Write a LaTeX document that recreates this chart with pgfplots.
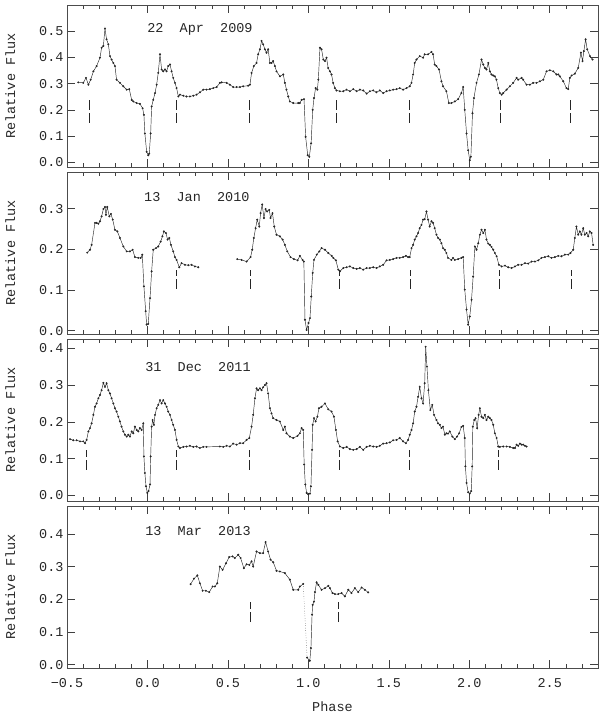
\documentclass[border=0pt]{standalone}
\usepackage{fontspec}
\setmainfont{Liberation Mono}
\usepackage{pgfplots}
\pgfplotsset{compat=1.18}

\pgfplotsset{
  panel/.style={
    scale only axis, width=531pt, height=162pt,
    xmin=-0.5, xmax=2.8,
    xtick={-0.5,0,0.5,1,1.5,2,2.5},
    minor xtick={-0.4,-0.3,-0.2,-0.1,0.1,0.2,0.3,0.4,0.6,0.7,0.8,0.9,1.1,1.2,1.3,1.4,1.6,1.7,1.8,1.9,2.1,2.2,2.3,2.4,2.6,2.7},
    xticklabels={},
    tick align=inside,
    major tick length=8pt, minor tick length=4pt,
    every tick/.append style={black!75, line width=0.6pt},
    axis line style={black!70, line width=0.8pt},
    tick label style={black!85},
    /pgf/number format/assume math mode=true,
    yticklabel style={/pgf/number format/fixed, /pgf/number format/fixed zerofill, /pgf/number format/precision=1},
    ylabel={Relative Flux},
    ylabel style={at={(axis description cs:-0.107,0.5)}, anchor=center, black!85},
    clip=false,
  },
  lc/.style={black!85, line width=0.45pt, mark=*, mark size=0.75pt, mark options={solid}},
  dk/.style={black!85, line width=0.5pt, mark=none, dash pattern=on 10pt off 3pt},
}

\begin{document}
\begin{tikzpicture}[font=\fontsize{13.5}{15}\selectfont]
\useasboundingbox (0,0) rectangle (600pt,-713pt);

% ---- 22 Apr 2009
\begin{axis}[panel, at={(67pt,-5pt)}, anchor=north west,
  ymin=-0.018, ymax=0.6, ytick={0,0.1,0.2,0.3,0.4,0.5}]
\addplot[lc] coordinates {
(-0.430,0.305)(-0.399,0.303)(-0.382,0.322)(-0.367,0.296)(-0.353,0.315)(-0.336,0.347)(-0.316,0.367)(-0.295,0.399)(-0.285,0.437)(-0.274,0.444)(-0.264,0.510)(-0.254,0.469)(-0.243,0.450)(-0.233,0.405)(-0.223,0.392)(-0.212,0.379)(-0.202,0.367)(-0.192,0.315)(-0.171,0.303)(-0.150,0.290)(-0.129,0.277)(-0.113,0.279)(-0.098,0.238)(-0.088,0.232)(-0.067,0.226)(-0.047,0.223)(-0.030,0.206)(-0.022,0.181)(-0.016,0.110)(-0.005,0.040)(0.005,0.027)(0.011,0.033)(0.020,0.110)(0.026,0.213)(0.036,0.238)(0.047,0.264)(0.057,0.296)(0.067,0.341)(0.078,0.412)(0.088,0.354)(0.098,0.347)(0.109,0.354)(0.119,0.347)(0.129,0.367)(0.140,0.373)(0.150,0.347)(0.160,0.322)(0.171,0.303)(0.181,0.283)(0.192,0.251)(0.202,0.258)(0.223,0.254)(0.243,0.251)(0.264,0.251)(0.285,0.254)(0.305,0.258)(0.326,0.267)(0.347,0.277)(0.367,0.277)(0.388,0.279)(0.409,0.283)(0.430,0.287)(0.450,0.303)(0.461,0.305)(0.492,0.303)(0.512,0.296)(0.533,0.287)(0.554,0.287)(0.575,0.287)(0.595,0.290)(0.626,0.292)(0.637,0.296)(0.647,0.341)(0.661,0.367)(0.678,0.379)(0.688,0.412)(0.699,0.431)(0.709,0.463)(0.719,0.450)(0.730,0.431)(0.740,0.418)(0.750,0.431)(0.761,0.379)(0.771,0.379)(0.781,0.386)(0.792,0.367)(0.802,0.347)(0.823,0.328)(0.844,0.335)(0.854,0.303)(0.864,0.277)(0.875,0.251)(0.885,0.232)(0.906,0.226)(0.937,0.226)
(0.947,0.226)(0.958,0.238)(0.973,0.241)(0.983,0.097)(0.996,0.027)(1.006,0.021)(1.017,0.072)(1.027,0.200)(1.035,0.245)(1.045,0.283)(1.056,0.277)(1.062,0.315)(1.072,0.437)(1.082,0.431)(1.093,0.392)(1.103,0.386)(1.113,0.399)(1.123,0.360)(1.134,0.347)(1.144,0.335)(1.154,0.303)(1.165,0.283)(1.175,0.274)(1.196,0.271)(1.217,0.271)(1.237,0.277)(1.258,0.271)(1.279,0.279)(1.300,0.271)(1.320,0.277)(1.341,0.274)(1.362,0.262)(1.382,0.271)(1.403,0.274)(1.423,0.267)(1.444,0.274)(1.465,0.264)(1.486,0.271)(1.506,0.274)(1.527,0.277)(1.548,0.279)(1.568,0.283)(1.589,0.277)(1.610,0.283)(1.630,0.290)(1.641,0.303)(1.651,0.335)(1.661,0.379)(1.672,0.392)(1.692,0.405)(1.713,0.399)(1.723,0.412)(1.744,0.412)(1.765,0.421)(1.775,0.412)(1.785,0.373)(1.796,0.367)(1.812,0.354)(1.827,0.309)(1.837,0.290)(1.858,0.271)(1.873,0.226)(1.889,0.226)(1.910,0.232)(1.931,0.241)(1.951,0.264)(1.962,0.287)(1.972,0.200)(1.983,0.110)(1.993,0.046)(2.003,0.008)(2.010,0.021)(2.020,0.187)(2.029,0.245)(2.045,0.303)(2.060,0.335)(2.076,0.392)(2.087,0.373)(2.097,0.360)(2.107,0.354)(2.118,0.379)(2.128,0.347)(2.138,0.335)(2.149,0.331)(2.159,0.328)(2.169,0.315)(2.180,0.283)(2.190,0.264)(2.201,0.258)(2.211,0.264)(2.232,0.277)(2.252,0.290)(2.273,0.303)(2.294,0.322)(2.304,0.315)(2.325,0.322)(2.335,0.315)(2.356,0.296)(2.377,0.296)(2.397,0.303)(2.418,0.303)(2.439,0.309)(2.460,0.315)(2.480,0.347)(2.501,0.351)(2.522,0.347)(2.542,0.335)(2.553,0.335)(2.563,0.328)(2.584,0.309)(2.604,0.283)(2.615,0.279)(2.625,0.322)(2.636,0.331)(2.656,0.338)(2.677,0.360)(2.694,0.418)(2.704,0.386)(2.712,0.424)(2.723,0.469)(2.733,0.431)(2.750,0.405)(2.766,0.392)
};
\addplot[dk] coordinates {(-0.36,0.15)(-0.36,0.245)};
\addplot[dk] coordinates {(0.18,0.15)(0.18,0.245)};
\addplot[dk] coordinates {(0.635,0.15)(0.635,0.245)};
\addplot[dk] coordinates {(1.175,0.15)(1.175,0.245)};
\addplot[dk] coordinates {(1.63,0.15)(1.63,0.245)};
\addplot[dk] coordinates {(2.195,0.15)(2.195,0.245)};
\addplot[dk] coordinates {(2.625,0.15)(2.625,0.245)};
\node[black!85] at (axis cs:0.326,0.508) {22~~Apr~~2009};
\end{axis}

% ---- 13 Jan 2010
\begin{axis}[panel, at={(67pt,-172pt)}, anchor=north west,
  ymin=-0.008, ymax=0.39, ytick={0,0.1,0.2,0.3}]
\addplot[lc] coordinates {
(-0.374,0.192)(-0.357,0.199)(-0.347,0.211)(-0.326,0.265)(-0.316,0.265)(-0.305,0.263)(-0.295,0.269)(-0.285,0.281)(-0.274,0.299)(-0.264,0.304)(-0.258,0.285)(-0.250,0.304)(-0.237,0.281)(-0.227,0.287)(-0.216,0.273)(-0.202,0.248)(-0.187,0.244)(-0.171,0.228)(-0.150,0.207)(-0.129,0.195)(-0.109,0.195)(-0.092,0.199)(-0.078,0.181)(-0.057,0.179)(-0.042,0.179)(-0.032,0.187)(-0.022,0.109)(-0.011,0.048)(-0.005,0.015)(0.005,0.017)(0.016,0.080)(0.026,0.146)(0.036,0.199)(0.053,0.203)(0.067,0.207)(0.082,0.219)(0.093,0.232)(0.102,0.244)(0.115,0.240)(0.125,0.224)(0.136,0.228)(0.146,0.211)(0.160,0.195)(0.171,0.181)(0.181,0.174)(0.198,0.156)(0.212,0.166)(0.233,0.162)(0.254,0.161)(0.274,0.162)(0.295,0.158)(0.316,0.156)
};
\addplot[lc] coordinates {
(0.558,0.176)(0.585,0.174)(0.616,0.170)(0.641,0.181)(0.651,0.199)(0.661,0.228)(0.672,0.252)(0.682,0.273)(0.695,0.256)(0.703,0.289)(0.713,0.310)(0.724,0.277)(0.734,0.299)(0.744,0.293)(0.757,0.297)(0.765,0.277)(0.777,0.289)(0.788,0.256)(0.802,0.236)(0.823,0.232)(0.840,0.224)(0.854,0.211)(0.869,0.195)(0.889,0.181)(0.910,0.176)(0.933,0.173)
(0.947,0.184)(0.964,0.174)(0.972,0.170)(0.979,0.027)(0.989,0.002)(1.001,0.019)(1.010,0.031)(1.018,0.084)(1.027,0.142)(1.035,0.174)(1.052,0.187)(1.068,0.195)(1.082,0.203)(1.103,0.199)(1.124,0.191)(1.145,0.184)(1.155,0.179)(1.171,0.173)(1.186,0.150)(1.196,0.146)(1.217,0.154)(1.238,0.156)(1.258,0.158)(1.279,0.154)(1.300,0.152)(1.320,0.154)(1.341,0.150)(1.362,0.154)(1.382,0.154)(1.403,0.156)(1.424,0.154)(1.444,0.158)(1.465,0.162)(1.486,0.173)(1.506,0.174)(1.527,0.176)(1.548,0.179)(1.568,0.179)(1.589,0.181)(1.606,0.184)(1.620,0.181)(1.630,0.181)(1.641,0.203)(1.651,0.211)(1.661,0.224)(1.672,0.232)(1.682,0.240)(1.692,0.252)(1.703,0.260)(1.713,0.273)(1.723,0.274)(1.734,0.293)(1.744,0.273)(1.754,0.256)(1.765,0.269)(1.775,0.265)(1.785,0.252)(1.796,0.236)(1.806,0.228)(1.817,0.224)(1.827,0.215)(1.837,0.203)(1.848,0.199)(1.858,0.191)(1.868,0.179)(1.889,0.174)(1.899,0.179)(1.910,0.174)(1.931,0.176)(1.951,0.179)(1.962,0.181)(1.972,0.101)(1.983,0.052)(1.993,0.015)(2.003,0.035)(2.014,0.076)(2.024,0.133)(2.035,0.207)(2.045,0.199)(2.056,0.215)(2.066,0.236)(2.076,0.248)(2.087,0.240)(2.097,0.248)(2.107,0.224)(2.118,0.214)(2.128,0.211)(2.138,0.206)(2.149,0.199)(2.159,0.191)(2.170,0.183)(2.184,0.162)(2.201,0.158)(2.222,0.160)(2.242,0.156)(2.263,0.154)(2.284,0.158)(2.304,0.162)(2.325,0.162)(2.346,0.166)(2.366,0.165)(2.387,0.170)(2.408,0.170)(2.429,0.173)(2.449,0.179)(2.470,0.181)(2.491,0.183)(2.511,0.179)(2.532,0.181)(2.553,0.184)(2.573,0.183)(2.594,0.187)(2.615,0.187)(2.629,0.191)(2.646,0.199)(2.656,0.228)(2.666,0.256)(2.677,0.236)(2.687,0.244)(2.697,0.236)(2.708,0.252)(2.718,0.236)(2.729,0.240)(2.739,0.232)(2.749,0.244)(2.760,0.240)(2.770,0.211)
};
\addplot[dk] coordinates {(0.181,0.103)(0.181,0.15)};
\addplot[dk] coordinates {(0.637,0.103)(0.637,0.15)};
\addplot[dk] coordinates {(1.191,0.103)(1.191,0.15)};
\addplot[dk] coordinates {(1.636,0.103)(1.636,0.15)};
\addplot[dk] coordinates {(2.186,0.103)(2.186,0.15)};
\addplot[dk] coordinates {(2.631,0.103)(2.631,0.15)};
\node[black!85] at (axis cs:0.307,0.328) {13~~Jan~~2010};
\end{axis}

% ---- 31 Dec 2011
\begin{axis}[panel, at={(67pt,-339pt)}, anchor=north west,
  ymin=-0.015, ymax=0.425, ytick={0,0.1,0.2,0.3,0.4}]
\addplot[lc] coordinates {
(-0.481,0.153)(-0.461,0.150)(-0.440,0.150)(-0.419,0.147)(-0.399,0.147)(-0.388,0.142)(-0.378,0.151)(-0.367,0.174)(-0.357,0.183)(-0.347,0.196)(-0.336,0.219)(-0.326,0.241)(-0.316,0.250)(-0.305,0.264)(-0.295,0.273)(-0.285,0.286)(-0.274,0.306)(-0.264,0.295)(-0.254,0.305)(-0.243,0.286)(-0.233,0.277)(-0.223,0.264)(-0.212,0.250)(-0.202,0.237)(-0.192,0.228)(-0.181,0.214)(-0.171,0.201)(-0.161,0.187)(-0.150,0.174)(-0.140,0.165)(-0.129,0.160)(-0.119,0.165)(-0.109,0.160)(-0.098,0.174)(-0.088,0.169)(-0.078,0.187)(-0.067,0.178)(-0.057,0.174)(-0.047,0.183)(-0.036,0.178)(-0.026,0.196)(-0.022,0.106)(-0.016,0.061)(-0.009,0.025)(-0.001,0.007)(0.007,0.012)(0.016,0.030)(0.020,0.106)(0.026,0.187)(0.032,0.205)(0.040,0.192)(0.047,0.219)(0.057,0.237)(0.067,0.246)(0.078,0.259)(0.088,0.250)(0.098,0.259)(0.109,0.250)(0.119,0.241)(0.129,0.228)(0.140,0.219)(0.150,0.205)(0.160,0.192)(0.171,0.178)(0.181,0.151)(0.192,0.133)(0.202,0.129)(0.223,0.132)(0.243,0.133)(0.264,0.135)(0.285,0.132)(0.305,0.133)(0.326,0.129)(0.347,0.132)(0.367,0.132)(0.450,0.133)(0.471,0.132)(0.492,0.135)(0.512,0.133)(0.533,0.141)(0.554,0.138)(0.575,0.142)(0.595,0.142)(0.616,0.151)(0.633,0.156)(0.647,0.187)(0.657,0.219)(0.668,0.264)(0.678,0.291)(0.688,0.286)(0.699,0.291)(0.709,0.286)(0.719,0.294)(0.730,0.300)(0.740,0.305)(0.750,0.277)(0.761,0.237)(0.771,0.223)(0.781,0.210)(0.802,0.205)(0.823,0.201)(0.844,0.178)(0.854,0.187)(0.864,0.169)(0.885,0.160)(0.906,0.156)(0.933,0.162)
(0.947,0.169)(0.958,0.183)(0.968,0.178)(0.974,0.084)(0.981,0.030)(0.989,0.007)(0.999,0.003)(1.010,0.005)(1.016,0.025)(1.023,0.124)(1.027,0.192)(1.035,0.210)(1.045,0.201)(1.056,0.214)(1.066,0.237)(1.082,0.241)(1.103,0.250)(1.124,0.234)(1.144,0.228)(1.159,0.214)(1.171,0.178)(1.182,0.147)(1.196,0.133)(1.217,0.129)(1.238,0.132)(1.258,0.126)(1.279,0.124)(1.300,0.126)(1.320,0.132)(1.341,0.124)(1.362,0.132)(1.382,0.135)(1.403,0.133)(1.424,0.132)(1.444,0.135)(1.465,0.141)(1.486,0.142)(1.506,0.144)(1.527,0.150)(1.548,0.151)(1.568,0.156)(1.589,0.147)(1.606,0.142)(1.620,0.151)(1.630,0.165)(1.641,0.178)(1.651,0.196)(1.661,0.228)(1.672,0.241)(1.682,0.268)(1.692,0.295)(1.703,0.264)(1.713,0.250)(1.723,0.305)(1.729,0.404)(1.737,0.350)(1.746,0.286)(1.758,0.232)(1.770,0.246)(1.781,0.219)(1.796,0.205)(1.806,0.196)(1.817,0.192)(1.827,0.183)(1.837,0.187)(1.848,0.165)(1.858,0.169)(1.868,0.168)(1.879,0.174)(1.895,0.160)(1.910,0.153)(1.924,0.160)(1.937,0.169)(1.951,0.186)(1.962,0.189)(1.972,0.156)(1.976,0.079)(1.983,0.034)(1.993,0.009)(2.003,0.005)(2.012,0.012)(2.018,0.079)(2.022,0.187)(2.031,0.205)(2.039,0.210)(2.049,0.183)(2.058,0.219)(2.066,0.237)(2.076,0.214)(2.087,0.210)(2.097,0.219)(2.107,0.205)(2.118,0.214)(2.128,0.210)(2.138,0.205)(2.149,0.192)(2.159,0.169)(2.170,0.156)(2.180,0.133)(2.190,0.132)(2.211,0.133)(2.232,0.133)(2.252,0.132)(2.273,0.129)(2.284,0.129)(2.294,0.138)(2.304,0.135)(2.315,0.141)(2.325,0.138)(2.335,0.138)(2.346,0.135)(2.356,0.133)
};
\addplot[dk] coordinates {(-0.378,0.07)(-0.378,0.124)};
\addplot[dk] coordinates {(0.181,0.07)(0.181,0.124)};
\addplot[dk] coordinates {(0.630,0.07)(0.630,0.124)};
\addplot[dk] coordinates {(1.191,0.07)(1.191,0.124)};
\addplot[dk] coordinates {(1.626,0.07)(1.626,0.124)};
\addplot[dk] coordinates {(2.181,0.07)(2.181,0.124)};
\node[black!85] at (axis cs:0.314,0.348) {31~~Dec~~2011};
\end{axis}

% ---- 13 Mar 2013
\begin{axis}[panel, at={(67pt,-506pt)}, anchor=north west,
  ymin=-0.01, ymax=0.485, ytick={0,0.1,0.2,0.3,0.4},
  xticklabels={−0.5,0.0,0.5,1.0,1.5,2.0,2.5},
  xticklabel style={yshift=-7pt},
  xlabel={Phase},
  xlabel style={at={(axis description cs:0.5,-0.241)}, anchor=center, black!85}]
\addplot[lc] coordinates {
(0.268,0.246)(0.289,0.263)(0.310,0.273)(0.326,0.249)(0.343,0.226)(0.363,0.226)(0.384,0.222)(0.405,0.239)(0.419,0.239)(0.434,0.249)(0.450,0.300)(0.467,0.290)(0.488,0.310)(0.508,0.329)(0.529,0.331)(0.543,0.326)(0.564,0.336)(0.579,0.326)(0.599,0.295)(0.616,0.307)(0.633,0.305)(0.647,0.316)(0.657,0.300)(0.678,0.346)(0.699,0.341)(0.719,0.341)(0.734,0.375)(0.750,0.346)(0.765,0.321)(0.782,0.313)(0.802,0.287)(0.823,0.285)(0.854,0.280)(0.885,0.260)(0.906,0.229)(0.937,0.229)(0.947,0.239)(0.968,0.247)
};
\addplot[black!85, line width=0.45pt, dotted, mark=none] coordinates {(0.968,0.247)(0.992,0.022)};
\addplot[lc] coordinates {
(0.992,0.022)(1.009,0.012)(1.016,0.051)(1.023,0.153)(1.027,0.183)(1.035,0.193)(1.041,0.222)(1.051,0.252)(1.062,0.244)(1.082,0.229)(1.103,0.234)(1.124,0.241)(1.134,0.234)(1.150,0.219)(1.165,0.216)(1.186,0.216)(1.206,0.219)(1.227,0.209)(1.248,0.229)(1.268,0.219)(1.289,0.234)(1.310,0.222)(1.331,0.236)(1.351,0.229)(1.372,0.221)
};
\addplot[dk] coordinates {(0.637,0.13)(0.637,0.193)};
\addplot[dk] coordinates {(1.185,0.13)(1.185,0.193)};
\node[black!85] at (axis cs:0.314,0.409) {13~~Mar~~2013};
\end{axis}
\end{tikzpicture}
\end{document}
